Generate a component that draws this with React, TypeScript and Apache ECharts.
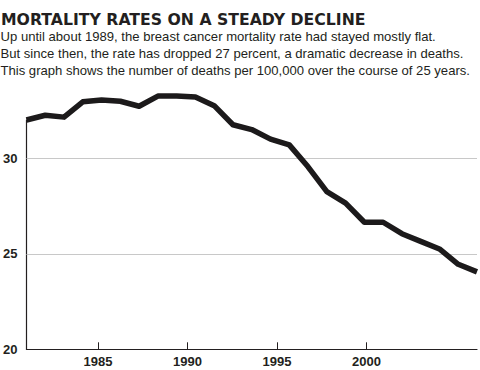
import React, { useEffect, useRef } from "react";
import * as echarts from "echarts";

const years = [
  1981, 1982, 1983, 1984, 1985, 1986, 1987, 1988, 1989, 1990, 1991, 1992, 1993,
  1994, 1995, 1996, 1997, 1998, 1999, 2000, 2001, 2002, 2003, 2004, 2005,
];
const deathRates = [
  32.0, 32.25, 32.15, 32.95, 33.05, 32.98, 32.72, 33.25, 33.25, 33.2, 32.75,
  31.75, 31.5, 31.0, 30.7, 29.55, 28.25, 27.65, 26.65, 26.65, 26.05, 25.65,
  25.25, 24.45, 24.05,
];
const xTickLabels = [1985, 1990, 1995, 2000];
const yTickLabels = [20, 25, 30];
const gridValues = [25, 30];

const titleText = "MORTALITY RATES ON A STEADY DECLINE";
const subtitleLines = [
  "Up until about 1989, the breast cancer mortality rate had stayed mostly flat.",
  "But since then, the rate has dropped 27 percent, a dramatic decrease in deaths.",
  "This graph shows the number of deaths per 100,000 over the course of 25 years.",
];

export default function App() {
  const ref = useRef<HTMLDivElement>(null);

  useEffect(() => {
    if (!ref.current) return;
    const chart = echarts.init(ref.current, null, { renderer: "svg" });
    const ink = "#231f20";
    const option: any = {
      animation: false,
      backgroundColor: "#ffffff",
      grid: { left: 25, right: 3, top: 120, bottom: 20.7, containLabel: false },
      graphic: [
        {
          type: "text",
          left: 1,
          top: 11.5,
          style: {
            text: titleText,
            font: "bold 15.7px 'DejaVu Sans'",
            fill: ink,
          },
        },
        ...subtitleLines.map((line, i) => ({
          type: "text",
          left: 0.5,
          top: 29.5 + i * 17.3,
          style: {
            text: line,
            font: "13.1px 'Liberation Sans', Arial, sans-serif",
            fill: ink,
          },
        })),
      ],
      xAxis: [
        {
          type: "value",
          min: years[0],
          max: years[years.length - 1],
          show: false,
        },
        {
          type: "value",
          min: 1981,
          max: 2006.17,
          position: "bottom",
          axisLine: { show: true, lineStyle: { color: ink, width: 1.2 } },
          axisTick: {
            show: true,
            inside: true,
            length: 7,
            customValues: xTickLabels,
            lineStyle: { color: ink, width: 1 },
          },
          axisLabel: {
            customValues: xTickLabels,
            formatter: (v: number) => String(v),
            color: ink,
            fontSize: 13,
            fontWeight: "bold",
            fontFamily: "'Liberation Sans', Arial, sans-serif",
            margin: 6,
          },
          splitLine: { show: false },
        },
      ],
      yAxis: {
        type: "value",
        min: 20,
        max: 32,
        interval: 5,
        axisLine: { show: true, lineStyle: { color: ink, width: 1.2 } },
        axisTick: { show: false },
        axisLabel: {
          customValues: yTickLabels,
          formatter: (v: number) => String(v),
          color: ink,
          fontSize: 13,
          fontWeight: "bold",
          fontFamily: "'Liberation Sans', Arial, sans-serif",
          margin: 9,
        },
        splitLine: { show: false },
      },
      series: [
        {
          type: "line",
          xAxisIndex: 0,
          data: years.map((y, i) => [y, deathRates[i]]),
          symbol: "none",
          clip: false,
          z: 5,
          lineStyle: { color: "#1c1a1b", width: 5.5, join: "round", cap: "butt" },
          markLine: {
            silent: true,
            symbol: "none",
            label: { show: false },
            z: 1,
            lineStyle: { color: "#c8c8c8", width: 1, type: "solid" },
            data: gridValues.map((v) => ({ yAxis: v })),
          },
        },
      ],
    };
    chart.setOption(option);
    return () => chart.dispose();
  }, []);

  return (
    <div
      ref={ref}
      style={{ position: "fixed", left: 0, top: 0, width: 480, height: 370 }}
    />
  );
}
